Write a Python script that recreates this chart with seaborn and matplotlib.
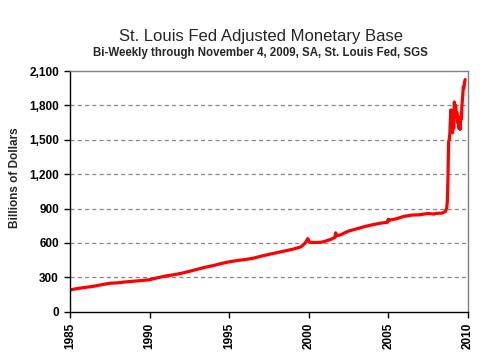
import matplotlib
matplotlib.use("Agg")
import matplotlib.pyplot as plt
import matplotlib.ticker as mticker
import seaborn as sns
import pandas as pd

# ---- data (decimal year, billions of dollars) ----
years = [1985.0, 1985.5, 1986.0, 1986.5, 1987.0, 1987.5, 1988.0, 1988.5, 1989.0, 1989.5,
         1990.0, 1990.5, 1991.0, 1991.5, 1992.0, 1992.5, 1993.0, 1993.5, 1994.0, 1994.5,
         1995.0, 1995.5, 1996.0, 1996.5, 1997.0, 1997.5, 1998.0, 1998.5, 1999.0, 1999.5,
         1999.75, 1999.85, 1999.95, 2000.05, 2000.5, 2000.8, 2001.0, 2001.4, 2001.65, 2001.7,
         2001.75, 2002.0, 2002.5, 2003.0, 2003.5, 2004.0, 2004.5, 2004.95, 2005.0, 2005.05,
         2005.5, 2006.0, 2006.5, 2007.0, 2007.5, 2007.9, 2008.0, 2008.4, 2008.6,
         2008.68, 2008.72, 2008.76, 2008.80, 2008.84, 2008.88, 2008.92, 2008.94, 2008.97, 2009.00,
         2009.04, 2009.08, 2009.12, 2009.16, 2009.20, 2009.24, 2009.28, 2009.32, 2009.36, 2009.40,
         2009.44, 2009.48, 2009.52, 2009.56, 2009.60, 2009.64, 2009.68, 2009.72, 2009.76, 2009.80,
         2009.84]
base = [190, 203, 213, 222, 236, 248, 252, 260, 266, 272,
        279, 296, 311, 322, 335, 352, 370, 388, 402, 420,
        435, 446, 455, 466, 484, 500, 515, 530, 545, 565,
        594, 614, 638, 605, 604, 606, 613, 632, 648, 688,
        662, 670, 703, 722, 742, 758, 772, 780, 806, 798,
        810, 832, 843, 846, 857, 852, 858, 860, 875,
        905, 960, 1180, 1480, 1500, 1560, 1690, 1760, 1580, 1750,
        1560, 1700, 1600, 1830, 1730, 1800, 1700, 1740, 1650, 1700,
        1600, 1640, 1590, 1700, 1680, 1800, 1870, 1960, 1950, 2000,
        2025]
x_ticks = [1985, 1990, 1995, 2000, 2005, 2010]
y_ticks = [0, 300, 600, 900, 1200, 1500, 1800, 2100]

title = "St. Louis Fed Adjusted Monetary Base"
subtitle = "Bi-Weekly through November 4, 2009, SA, St. Louis Fed, SGS"
ylabel = "Billions of Dollars"

df = pd.DataFrame({"year": years, "base": base})

sns.set_theme(style="white")
plt.rcParams["font.family"] = ["Liberation Sans", "DejaVu Sans"]

fig = plt.figure(figsize=(4.95, 3.57), dpi=100)
ax = fig.add_axes([70 / 495, 1 - 311.7 / 357, (467.7 - 70) / 495, (311.7 - 71) / 357])

sns.lineplot(data=df, x="year", y="base", ax=ax, color="#ff0000", linewidth=2.3)

ax.set_xlim(1985, 2010)
ax.set_ylim(0, 2100)
ax.set_xticks(x_ticks)
ax.set_yticks(y_ticks)
ax.yaxis.set_major_formatter(mticker.FuncFormatter(lambda v, p: f"{int(v):,}"))
ax.set_xticklabels([str(t) for t in x_ticks], rotation=90, fontweight="bold", fontsize=8.5)
for lab in ax.get_yticklabels():
    lab.set_fontweight("bold")
    lab.set_fontsize(8.5)

ax.tick_params(axis="both", which="major", direction="out", length=4, width=1,
               color="black", pad=4, left=True, bottom=True, labelcolor="black")

ax.grid(False)
for yv in y_ticks[1:-1]:
    ax.axhline(yv, color="#888888", linestyle=(0, (3.3, 2.5)), linewidth=0.9, zorder=0)

for side in ["left", "bottom"]:
    ax.spines[side].set_color("black")
    ax.spines[side].set_linewidth(1.0)
for side in ["top", "right"]:
    ax.spines[side].set_visible(True)
    ax.spines[side].set_color("#808080")
    ax.spines[side].set_linewidth(1.0)

ax.set_xlabel("")
ax.set_ylabel(ylabel, fontsize=8.5, fontweight="bold")
ax.yaxis.set_label_coords((15.5 - 70) / 397.7, (311.7 - 178) / 240.7)
ax.yaxis.label.set_va("center")

fig.text(261 / 495, 1 - 36.5 / 357, title, ha="center", va="center", fontsize=12)
fig.text(260 / 495, 1 - 53 / 357, subtitle, ha="center", va="center", fontsize=8.3,
         fontweight="bold")

fig.savefig("out.png", dpi=100, facecolor="white")
